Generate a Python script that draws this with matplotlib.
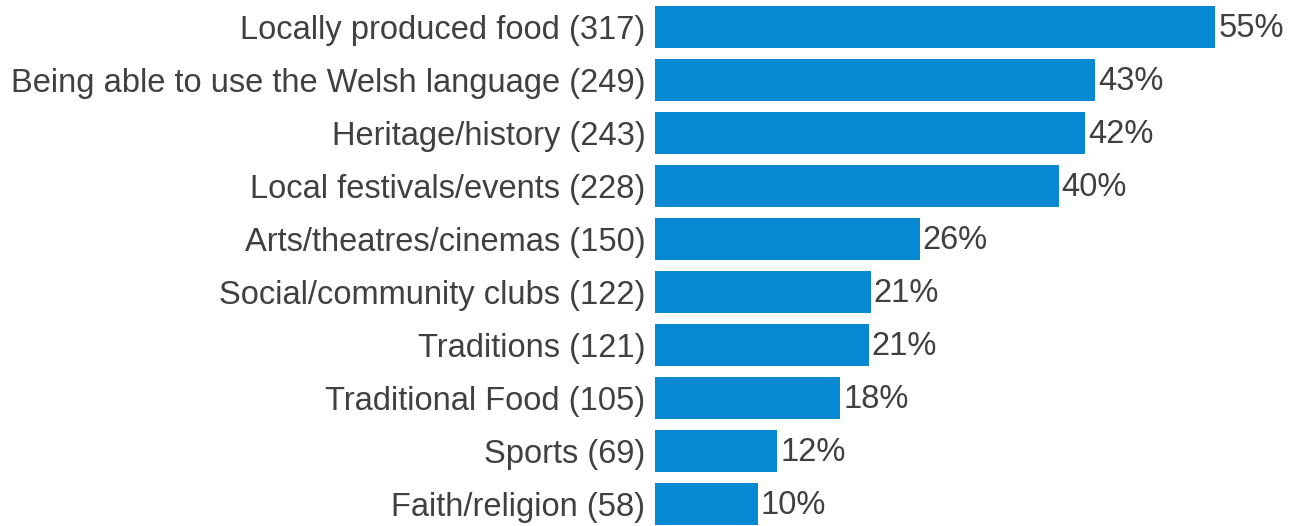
import numpy as np
import matplotlib.pyplot as plt

plt.rcParams['font.family'] = ['Liberation Sans', 'DejaVu Sans']

categories = ["Locally produced food (317)", "Being able to use the Welsh language (249)",
              "Heritage/history (243)", "Local festivals/events (228)",
              "Arts/theatres/cinemas (150)", "Social/community clubs (122)",
              "Traditions (121)", "Traditional Food (105)", "Sports (69)",
              "Faith/religion (58)"]
percent = [55.0, 43.2, 42.2, 39.6, 26.0, 21.2, 21.0, 18.2, 12.0, 10.1]
labels = ["55%", "43%", "42%", "40%", "26%", "21%", "21%", "18%", "12%", "10%"]

fig = plt.figure(figsize=(12.96, 5.26), dpi=100)
ax = fig.add_axes([655 / 1296, 0, 1 - 655 / 1296, 1])

y = np.arange(len(categories))
ax.barh(y, percent, height=0.81, color="#0788D2")
for yi, p, lab in zip(y, percent, labels):
    ax.annotate(lab, (p, yi), xytext=(2, -1), textcoords="offset points",
                va="center", ha="left", fontsize=23.5, color="#404040")

ax.set_xlim(0, 62.9)
ax.set_ylim(9.415, -0.51)
ax.set_yticks(y)
ax.set_yticklabels(categories, fontsize=23.5, color="#404040")
ax.tick_params(axis="y", length=0, pad=7)
ax.set_xticks([])
for s in ax.spines.values():
    s.set_visible(False)

plt.savefig("out.png", dpi=100)
